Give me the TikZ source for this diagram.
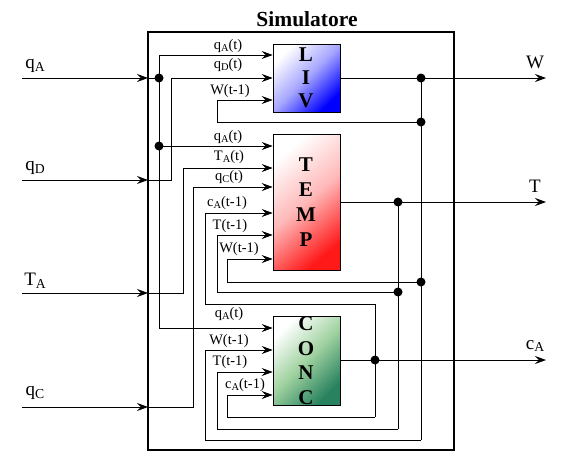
\documentclass[tikz,border=0pt]{standalone}
\usepackage{fontspec}
\setmainfont{Liberation Serif}
\usepackage{graphicx}
\usetikzlibrary{arrows.meta}
\newcommand\sbs[1]{\raisebox{-0.3ex}{\scalebox{0.72}{#1}}}
\begin{document}
\begin{tikzpicture}[x=1pt,y=-1pt,
  wire/.style={line width=0.8pt},
  arr/.style={wire,-{Stealth[length=11pt,width=8pt,inset=4pt]}},
  jdot/.style={circle,fill=black,inner sep=0pt,minimum size=9pt},
  blk/.style={draw,line width=0.7pt,inner sep=0pt,minimum width=67pt},
  lbl/.style={inner sep=0pt,font=\fontsize{14.5}{15}\selectfont},
  iolbl/.style={inner sep=0pt,font=\fontsize{19}{20}\selectfont},
  letter/.style={inner sep=0pt,font=\bfseries\fontsize{21}{22}\selectfont}]
\useasboundingbox (0,0) rectangle (568,453);
% outer box
\draw[line width=1.8pt] (148,32) rectangle (454,450);
\node[font=\bfseries\fontsize{21.5}{22}\selectfont,inner sep=0pt] (title) at (307,19) {Simulatore};
% blocks
\node[blk,minimum height=68pt,top color=white,bottom color=blue,middle color=blue!35,shading angle=45] (liv) at (306.5,78) {};
\node[blk,minimum height=136pt,top color=white,bottom color=red!90,middle color=red!28,shading angle=40] (temp) at (306.5,202) {};
\node[blk,minimum height=89pt,top color=white,bottom color={rgb,255:red,40;green,130;blue,95},middle color={rgb,255:red,160;green,210;blue,160},shading angle=45] (conc) at (306.5,360.5) {};
% box letters
\node[letter] (l1) at (306,55) {L};
\node[letter] (l2) at (306,78) {I};
\node[letter] (l3) at (306,101) {V};
\node[letter] (t1) at (306,165) {T};
\node[letter] (t2) at (306,190) {E};
\node[letter] (t3) at (306,215) {M};
\node[letter] (t4) at (306,240) {P};
\node[letter] (c1) at (306,324) {C};
\node[letter] (c2) at (306,349) {O};
\node[letter] (c3) at (306,373) {N};
\node[letter] (c4) at (306,398) {C};
% input coordinates
\coordinate (inA) at (22,78);   \coordinate (bA) at (148,78);
\coordinate (inD) at (22,180);  \coordinate (bD) at (148,180);
\coordinate (inT) at (22,293);  \coordinate (bT) at (148,293);
\coordinate (inC) at (22,407);  \coordinate (bC) at (148,407);
\draw[arr] (inA) -- (bA);
\draw[arr] (inD) -- (bD);
\draw[arr] (inT) -- (bT);
\draw[arr] (inC) -- (bC);
\node[iolbl] (lA) at (35,66) {q\sbs{A}};
\node[iolbl] (lD) at (35,168) {q\sbs{D}};
\node[iolbl] (lT) at (35,281) {T\sbs{A}};
\node[iolbl] (lC) at (35,393) {q\sbs{C}};
% junctions
\node[jdot] (jA) at (159,78) {};
\node[jdot] (jA2) at (159,146) {};
\node[jdot] (jW) at (421,78) {};
\node[jdot] (jW2) at (421,122) {};
\node[jdot] (jW3) at (421,282) {};
\node[jdot] (jT) at (398,202) {};
\node[jdot] (jT2) at (398,292) {};
\node[jdot] (jc) at (375,360) {};
% qA distribution
\draw[wire] (bA) -- (jA.center);
\draw[wire] (159,55) -- (159,328);
\draw[arr] (159,55) -- (liv.west |- 0,55);
\draw[arr] (jA2.center) -- (temp.west |- 0,146);
\draw[arr] (159,328) -- (conc.west |- 0,328);
% qD
\draw[arr] (bD) -- (171,180) -- (171,78) -- (liv.west |- 0,78);
% TA
\draw[arr] (bT) -- (183,293) -- (183,168) -- (temp.west |- 0,168);
% qC
\draw[arr] (bC) -- (193,407) -- (193,187) -- (temp.west |- 0,187);
% outputs
\coordinate (oW) at (546,78);
\coordinate (oT) at (546,202);
\coordinate (oC) at (546,360);
\draw[arr] (liv.east |- 0,78) -- (oW);
\draw[arr] (temp.east |- 0,202) -- (oT);
\draw[arr] (conc.east |- 0,360) -- (oC);
\node[iolbl] (lW) at (535,62) {W};
\node[iolbl] (lTo) at (535,186) {T};
\node[iolbl] (lCo) at (535,346) {c\sbs{A}};
% vertical feedback buses
\draw[wire] (jW.center) -- (421,440);
\draw[wire] (jT.center) -- (398,429);
\draw[wire] (375,304) -- (375,417);
% feedbacks into LIV
\draw[arr] (jW2.center) -- (217,122) -- (217,100) -- (liv.west |- 0,100);
% feedbacks into TEMP
\draw[arr] (375,304) -- (205,304) -- (205,213) -- (temp.west |- 0,213);
\draw[arr] (jT2.center) -- (217,292) -- (217,235) -- (temp.west |- 0,235);
\draw[arr] (jW3.center) -- (227,282) -- (227,259) -- (temp.west |- 0,259);
% feedbacks into CONC
\draw[arr] (421,440) -- (205,440) -- (205,350) -- (conc.west |- 0,350);
\draw[arr] (398,429) -- (217,429) -- (217,372) -- (conc.west |- 0,372);
\draw[arr] (375,417) -- (227,417) -- (227,395) -- (conc.west |- 0,395);
% labels LIV
\node[lbl] (a1) at (228,46) {q\sbs{A}(t)};
\node[lbl] (a2) at (228,65) {q\sbs{D}(t)};
\node[lbl] (a3) at (230,91) {W(t-1)};
% labels TEMP
\node[lbl] (b1) at (228,137) {q\sbs{A}(t)};
\node[lbl] (b2) at (229,157) {T\sbs{A}(t)};
\node[lbl] (b3) at (229,177) {q\sbs{C}(t)};
\node[lbl] (b4) at (227,203) {c\sbs{A}(t-1)};
\node[lbl] (b5) at (230,226) {T(t-1)};
\node[lbl] (b6) at (239,249) {W(t-1)};
% labels CONC
\node[lbl] (d1) at (229,314) {q\sbs{A}(t)};
\node[lbl] (d2) at (229,341) {W(t-1)};
\node[lbl] (d3) at (230,362) {T(t-1)};
\node[lbl] (d4) at (245,385) {c\sbs{A}(t-1)};
\end{tikzpicture}
\end{document}
